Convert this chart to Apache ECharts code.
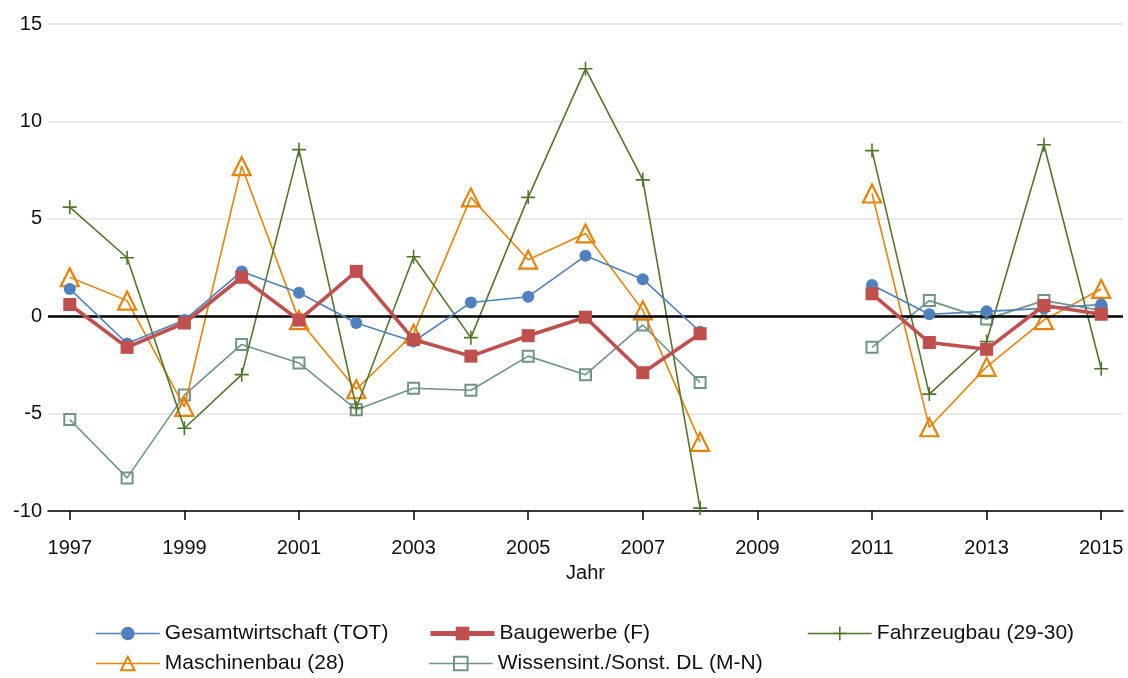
<!DOCTYPE html>
<html><head><meta charset="utf-8">
<script src="https://cdn.jsdelivr.net/npm/echarts@6/dist/echarts.min.js"></script>
<style>html,body{margin:0;padding:0;background:#fff}#c{width:1128px;height:678px}</style>
</head><body><div id="c"></div>
<script>
const years = [1997,1998,1999,2000,2001,2002,2003,2004,2005,2006,2007,2008,2009,2010,2011,2012,2013,2014,2015];
const xTicks = [1997,1999,2001,2003,2005,2007,2009,2011,2013,2015];
const yTicks = [-10,-5,0,5,10,15];
const gesamt   = [1.4,-1.4,-0.2,2.3,1.2,-0.35,-1.3,0.7,1.0,3.1,1.9,-0.8,null,null,1.6,0.1,0.25,0.4,0.6];
const bau      = [0.6,-1.6,-0.35,2.0,-0.2,2.3,-1.2,-2.05,-1.0,-0.05,-2.9,-0.9,null,null,1.15,-1.35,-1.7,0.55,0.1];
const fahrzeug = [5.6,3.0,-5.75,-3.0,8.55,-4.7,3.05,-1.1,6.1,12.7,7.0,-9.85,null,null,8.5,-4.0,-1.3,8.8,-2.7];
const maschinen= [2.0,0.8,-4.65,7.7,-0.2,-3.75,-0.9,6.1,2.9,4.25,0.3,-6.45,null,null,6.3,-5.7,-2.6,-0.2,1.4];
const wissen   = [-5.3,-8.3,-4.05,-1.45,-2.4,-4.8,-3.7,-3.8,-2.05,-3.0,-0.45,-3.4,null,null,-1.6,0.8,-0.15,0.8,0.3];
const names = ['Gesamtwirtschaft (TOT)','Baugewerbe (F)','Fahrzeugbau (29-30)','Maschinenbau (28)','Wissensint./Sonst. DL (M-N)'];

const FONT = '"Liberation Sans Narrow","Arial Narrow","Liberation Sans",Arial,sans-serif';
const pair = arr => years.map((y,i)=>[y, arr[i]]);
const plus = 'path://M6.2,0h1.6v6.2h6.2v1.6h-6.2v6.2h-1.6v-6.2h-6.2v-1.6h6.2z';
const legendPos = [[90,623],[423,623],[802,623],[90,653],[423,653]];
const legendLineW = [1.6,5,1.6,1.6,1.6];
const legends = names.map((n,i)=>({left:legendPos[i][0],top:legendPos[i][1],itemWidth:64,itemHeight:17,itemGap:6,padding:[0,5],
  lineStyle:{width:legendLineW[i]},
  textStyle:{fontSize:21,color:'#111',fontFamily:FONT},data:[n]}));

const chart = echarts.init(document.getElementById('c'));
chart.setOption({
  animation:false,
  textStyle:{fontFamily:FONT},
  grid:{left:48,right:5,top:24,bottom:167},
  xAxis:{type:'value',min:1996.62,max:2015.38,
    name:'Jahr',nameLocation:'middle',nameGap:52,nameTextStyle:{fontSize:20,color:'#111',fontFamily:FONT},
    axisLine:{onZero:false,lineStyle:{color:'#000',width:1.5}},
    axisTick:{show:true,length:9,customValues:xTicks,lineStyle:{color:'#000',width:1.5}},
    axisLabel:{customValues:xTicks,fontSize:20,color:'#111',margin:37,fontFamily:FONT,formatter:v=>String(v),verticalAlign:'middle'},
    splitLine:{show:false}},
  yAxis:{type:'value',min:-10,max:15,interval:5,
    axisLine:{show:false},axisTick:{show:false},
    axisLabel:{fontSize:20,color:'#111',margin:6,fontFamily:FONT},
    splitLine:{lineStyle:{color:'#e3e3e3',width:1.5}}},
  legend:legends,
  series:[
    {name:names[4],type:'line',data:pair(wissen),symbol:'rect',symbolSize:11,
     lineStyle:{color:'#6f9488',width:1.6},itemStyle:{color:'rgba(255,255,255,0)',borderColor:'#6f9488',borderWidth:2},z:2},
    {name:names[3],type:'line',data:pair(maschinen),symbol:'triangle',symbolSize:18,
     lineStyle:{color:'#e8830a',width:1.6},itemStyle:{color:'rgba(255,255,255,0)',borderColor:'#e8830a',borderWidth:2.2},z:3},
    {name:names[2],type:'line',data:pair(fahrzeug),symbol:plus,symbolSize:14,
     lineStyle:{color:'#51762b',width:1.6},itemStyle:{color:'#51762b'},z:4},
    {name:names[0],type:'line',data:pair(gesamt),symbol:'circle',symbolSize:12,
     lineStyle:{color:'#4e81bd',width:1.6},itemStyle:{color:'#4e81bd'},z:5,
     markLine:{silent:true,symbol:'none',label:{show:false},lineStyle:{color:'#000',width:2.5,type:'solid'},data:[{yAxis:0}]}},
    {name:names[1],type:'line',data:pair(bau),symbol:'rect',symbolSize:13,
     lineStyle:{color:'#c0504d',width:3.6},itemStyle:{color:'#c0504d'},z:6}
  ]
});
</script></body></html>
